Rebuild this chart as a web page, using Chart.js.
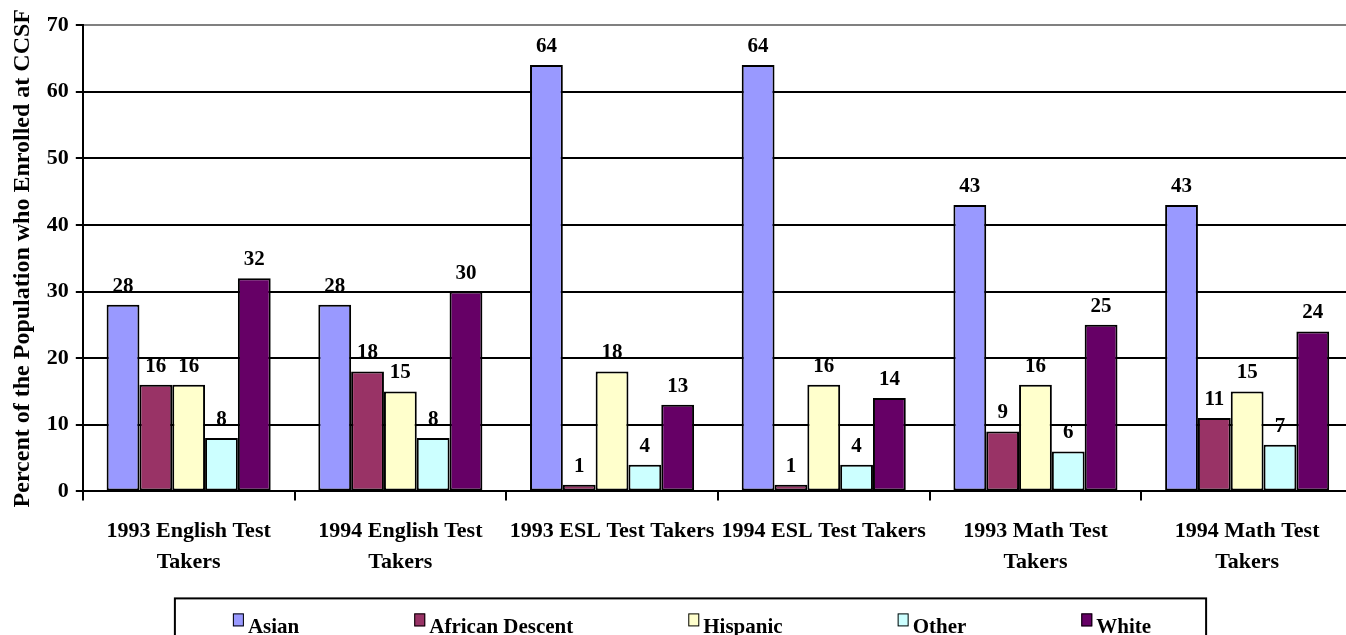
<!DOCTYPE html>
<html>
<head>
<meta charset="utf-8">
<script src="https://cdn.jsdelivr.net/npm/chart.js@4"></script>
<style>
  html, body { margin: 0; padding: 0; background: #fff; overflow: hidden; }
  #wrap { width: 1360px; height: 635px; position: relative; }
</style>
</head>
<body>
<div id="wrap"><canvas id="chart"></canvas></div>
<script>
const categories = [
  ['1993 English Test', 'Takers'],
  ['1994 English Test', 'Takers'],
  '1993 ESL Test Takers',
  '1994 ESL Test Takers',
  ['1993 Math Test', 'Takers'],
  ['1994 Math Test', 'Takers']
];
const asian = [28, 28, 64, 64, 43, 43];
const africanDescent = [16, 18, 1, 1, 9, 11];
const hispanic = [16, 15, 18, 16, 16, 15];
const other = [8, 8, 4, 4, 6, 7];
const white = [32, 30, 13, 14, 25, 24];
const yTicks = [0, 10, 20, 30, 40, 50, 60, 70];

const FONT = '"Liberation Serif", "Times New Roman", serif';

// value labels above each bar
const barLabels = {
  id: 'barLabels',
  afterDatasetsDraw(chart) {
    const ctx = chart.ctx;
    ctx.save();
    ctx.font = 'bold 21px ' + FONT;
    ctx.fillStyle = '#000';
    ctx.textAlign = 'center';
    ctx.textBaseline = 'alphabetic';
    chart.data.datasets.forEach((ds, i) => {
      chart.getDatasetMeta(i).data.forEach((bar, j) => {
        ctx.fillText(String(ds.data[j]), bar.x, bar.y - 13);
      });
    });
    ctx.restore();
  }
};

// boxed legend under the axis labels, items spread wide like the original
const boxLegend = {
  id: 'boxLegend',
  afterDraw(chart) {
    const ctx = chart.ctx;
    const gap = 115;
    ctx.save();
    ctx.font = 'bold 21px ' + FONT;
    const items = chart.data.datasets.map(ds => ({
      text: ds.label, color: ds.backgroundColor, w: ctx.measureText(ds.label).width
    }));
    const total = items.reduce((s, it) => s + 15 + it.w, 0) + gap * (items.length - 1);
    const mid = chart.width / 2 + 12;
    let x = mid - total / 2;
    const top = chart.chartArea.bottom + 107;
    ctx.strokeStyle = '#000';
    ctx.lineWidth = 2;
    ctx.strokeRect(x - 58, top, total + 58 + 55, 60);
    const base = top + 35;
    items.forEach(it => {
      ctx.fillStyle = it.color;
      ctx.fillRect(x, base - 20, 11, 13);
      ctx.lineWidth = 1;
      ctx.strokeRect(x + 0.5, base - 19.5, 10, 12);
      ctx.fillStyle = '#000';
      ctx.textBaseline = 'alphabetic';
      ctx.textAlign = 'left';
      ctx.fillText(it.text, x + 15, base);
      x += 15 + it.w + gap;
    });
    ctx.restore();
  }
};

function series(label, data, color) {
  return {
    label: label,
    data: data,
    backgroundColor: color,
    borderColor: '#000',
    borderWidth: 2,
    borderSkipped: false,
    categoryPercentage: 0.775,
    barPercentage: 1.0
  };
}

new Chart(document.getElementById('chart'), {
  type: 'bar',
  data: {
    labels: categories,
    datasets: [
      series('Asian', asian, '#9999FF'),
      series('African Descent', africanDescent, '#993366'),
      series('Hispanic', hispanic, '#FFFFCC'),
      series('Other', other, '#CCFFFF'),
      series('White', white, '#660066')
    ]
  },
  options: {
    responsive: true,
    maintainAspectRatio: false,
    animation: false,
    layout: { padding: { left: 8, right: 7, top: 25, bottom: 41 } },
    plugins: {
      tooltip: { enabled: false },
      legend: { display: false }
    },
    scales: {
      x: {
        grid: {
          offset: true,
          drawOnChartArea: false,
          drawTicks: true,
          tickLength: 9,
          color: '#000',
          lineWidth: 2
        },
        border: { color: '#000', width: 2 },
        ticks: {
          color: '#000',
          font: { family: FONT, size: 22, weight: 'bold', lineHeight: 1.4 },
          maxRotation: 0,
          autoSkip: false,
          padding: 16
        }
      },
      y: {
        min: 0,
        max: 70,
        afterBuildTicks(scale) {
          scale.ticks = yTicks.map(v => ({ value: v }));
        },
        grid: {
          color: ctx => (ctx.tick && ctx.tick.value === 70) ? '#808080' : '#000',
          tickColor: '#000',
          lineWidth: 2,
          tickLength: 7
        },
        border: { color: '#000', width: 2 },
        ticks: {
          color: '#000',
          font: { family: FONT, size: 22, weight: 'bold' },
          padding: 7
        },
        title: {
          display: true,
          text: 'Percent of the Population who Enrolled at CCSF',
          color: '#000',
          font: { family: FONT, size: 24, weight: 'bold' },
          padding: { top: 0, bottom: 3 }
        }
      }
    }
  },
  plugins: [barLabels, boxLegend]
});
</script>
</body>
</html>
